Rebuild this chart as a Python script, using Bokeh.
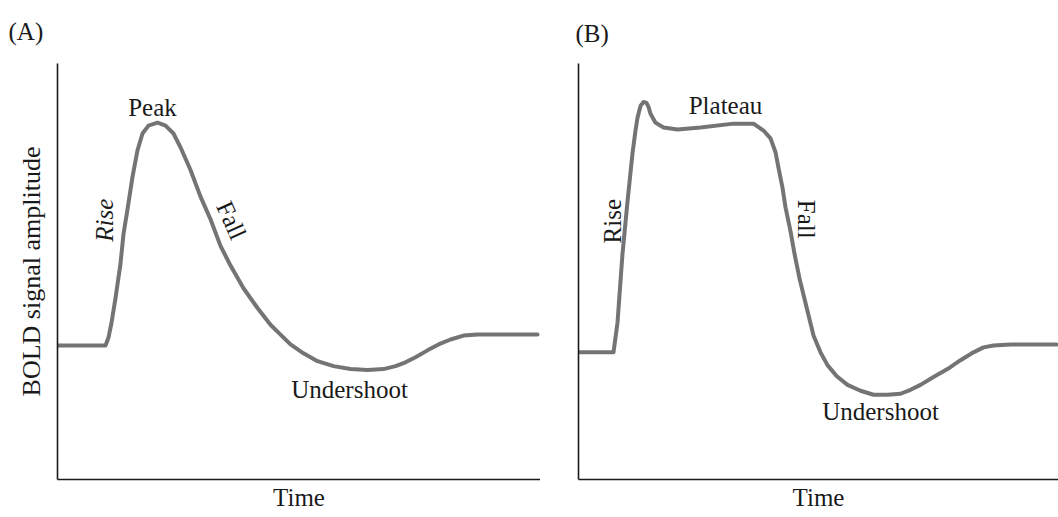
import math
from bokeh.plotting import figure
from bokeh.layouts import row
from bokeh.models import Range1d, Label, FixedTicker
from bokeh.embed import file_html
from bokeh.resources import INLINE

# ---- Data (arbitrary time units, arbitrary BOLD amplitude units) ----
time_a = [0, 48, 51, 54, 58, 63, 66, 70, 75, 80, 85, 91, 100, 108, 116, 123, 133, 143,
          153, 163, 173, 186, 200, 213, 223, 233, 246, 260, 276, 293, 310, 326, 338,
          346, 358, 370, 381, 393, 406, 420, 480]
bold_a = [136, 136, 144, 159, 184, 219, 249, 274, 307, 334, 351, 359, 362, 359, 351, 337,
          314, 287, 264, 237, 217, 194, 174, 157, 147, 137, 128, 120, 115, 112, 111, 112,
          115, 118, 124, 131, 137, 142, 146, 147, 147]

time_b = [0, 35, 39, 44, 49, 54, 57, 59, 62, 65, 68, 70, 72, 77, 85, 99, 122, 155, 175,
          185, 192, 197, 200, 204, 207, 212, 216, 221, 227, 235, 242, 249, 258, 269, 282,
          295, 309, 322, 332, 342, 355, 369, 382, 395, 405, 415, 432, 478]
bold_b = [129, 129, 159, 229, 282, 331, 354, 367, 379, 383, 382, 378, 371, 362, 357, 355,
          357, 361, 361, 354, 346, 332, 316, 296, 276, 252, 229, 204, 179, 146, 129, 116,
          105, 96, 90, 86, 86, 87, 91, 96, 104, 112, 121, 129, 134, 136, 137, 137]

panel_letters = ["(A)", "(B)"]
x_title = "Time"
y_title = "BOLD signal amplitude"

FONT = "Liberation Serif"
CURVE = "#747474"
INK = "#1a1a1a"


def make_panel(width, left, top, bottom, xmax, letter, letter_offset, letter_standoff, ylabel):
    p = figure(width=width, height=517, output_backend="svg", toolbar_location=None,
               x_range=Range1d(0, xmax), y_range=Range1d(0, 422),
               min_border_left=left, min_border_right=0, min_border_top=top,
               min_border_bottom=bottom, title=letter)
    p.title.text_font = FONT
    p.title.text_font_size = "25px"
    p.title.text_font_style = "normal"
    p.title.text_color = INK
    p.title.align = "left"
    p.title.vertical_align = "top"
    p.title.offset = letter_offset
    p.title.standoff = letter_standoff
    p.outline_line_color = None
    p.grid.grid_line_color = None
    p.background_fill_color = "white"
    p.border_fill_color = "white"
    for ax in (p.xaxis[0], p.yaxis[0]):
        ax.ticker = FixedTicker(ticks=[])
        ax.major_tick_line_color = None
        ax.minor_tick_line_color = None
        ax.major_label_text_font_size = "0px"
        ax.axis_line_color = INK
        ax.axis_line_width = 1.6
        ax.axis_label_text_font = FONT
        ax.axis_label_text_font_style = "normal"
        ax.axis_label_text_color = INK
        ax.axis_label_text_font_size = "25px"
    p.xaxis.axis_label = x_title
    p.xaxis.axis_label_standoff = 4
    if ylabel:
        p.yaxis.axis_label = ylabel
        p.yaxis.axis_label_standoff = 12
        p.yaxis.axis_label_text_font_size = "26px"
    return p


def lab(p, text, x, y, angle=0.0, style="normal", size="25px"):
    p.add_layout(Label(x=x, y=y, text=text, angle=angle, text_align="center",
                       text_baseline="middle", text_font=FONT, text_font_size=size,
                       text_font_style=style, text_color=INK))


pa = make_panel(540, 57, 62, 33, 483, panel_letters[0], -49, 34, y_title)
pa.line(time_a, bold_a, line_color=CURVE, line_width=4, line_join="round", line_cap="round")
lab(pa, "Peak", 95, 377)
lab(pa, "Rise", 47, 263, angle=math.pi / 2, style="italic")
lab(pa, "Fall", 174, 263, angle=-math.radians(66))
lab(pa, "Undershoot", 292, 91)

pb = make_panel(518, 38, 57, 38, 480, panel_letters[1], -3, 30, None)
pb.line(time_b, bold_b, line_color=CURVE, line_width=4, line_join="round", line_cap="round")
lab(pb, "Plateau", 147, 379)
lab(pb, "Rise", 34, 262, angle=math.pi / 2)
lab(pb, "Fall", 228, 264, angle=-math.pi / 2)
lab(pb, "Undershoot", 302, 69)

layout = row(pa, pb)
open("out.html", "w").write(file_html(layout, INLINE))
